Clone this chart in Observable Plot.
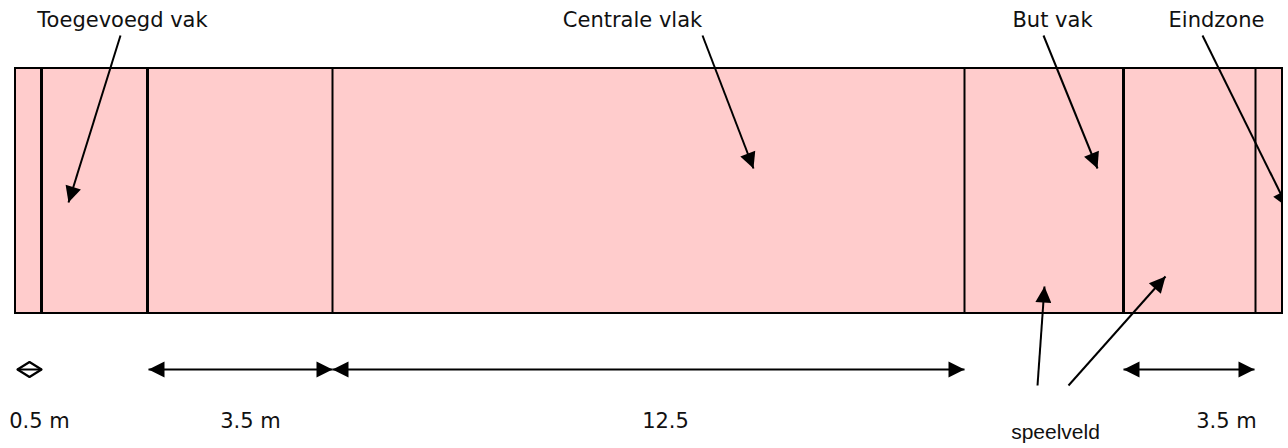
<!DOCTYPE html>
<html>
<head>
<meta charset="utf-8">
<script src="https://cdn.jsdelivr.net/npm/d3@7"></script>
<script src="https://cdn.jsdelivr.net/npm/@observablehq/plot@0.6"></script>
<style>
  html, body { margin: 0; padding: 0; background: #fff; }
  svg { display: block; }
</style>
</head>
<body>
<div id="chart"></div>
<script>
// ---- data (diagram units) ----
const fieldX = [15, 1282];          // left / right edge of the field
const fieldY = [68, 313];           // top / bottom edge of the field
const dividers = [41, 147, 332, 964, 1123, 1255];

const topLabels = ["Toegevoegd vak", "Centrale vlak", "But vak", "Eindzone"];
const topLabelX = [122, 632, 1052, 1216];
const topLabelY = [26, 26, 26, 26];
const topArrowFrom = [[120, 35], [702, 35], [1043, 35], [1202, 35]];
const topArrowTo = [[68, 202], [753, 168], [1097, 168], [1287, 207]];

const dimSpans = [[17, 41], [148, 332], [332, 964], [1123, 1254]];
const dimY = 369;
const dimLabels = ["0.5 m", "3.5 m", "12.5", "3.5 m"];
const dimLabelX = [39, 250, 665, 1226];
const dimLabelY = [427, 427, 427, 427];

const noteLabel = ["speelveld"];
const noteLabelX = [1055];
const noteLabelY = [438];
const noteArrowFrom = [[1037, 385], [1068, 385]];
const noteArrowTo = [[1044, 286], [1165, 276]];

// ---- helpers ----
function head(id, from, tip, len, half) {
  const dx = tip[0] - from[0], dy = tip[1] - from[1];
  const n = Math.hypot(dx, dy), ux = dx / n, uy = dy / n;
  const bx = tip[0] - ux * len, by = tip[1] - uy * len;
  return [
    {id, x: tip[0], y: tip[1]},
    {id, x: bx - uy * half, y: by + ux * half},
    {id, x: bx + uy * half, y: by - ux * half}
  ];
}

const topLines = topArrowFrom.map((f, i) => ({x1: f[0], y1: f[1], x2: topArrowTo[i][0], y2: topArrowTo[i][1]}));
const topHeads = topArrowFrom.flatMap((f, i) => head("t" + i, f, topArrowTo[i], 16, 8));
const noteLines = noteArrowFrom.map((f, i) => ({x1: f[0], y1: f[1], x2: noteArrowTo[i][0], y2: noteArrowTo[i][1]}));
const noteHeads = noteArrowFrom.flatMap((f, i) => head("n" + i, f, noteArrowTo[i], 16, 8));

const dimLines = dimSpans.map(s => ({x1: s[0], x2: s[1], y: dimY}));
const solidDimHeads = [], hollowDimHeads = [];
dimSpans.forEach((s, i) => {
  const small = (s[1] - s[0]) < 30;
  if (small) {
    // heads meet back to back: drawn as one open diamond
    const m = (s[0] + s[1]) / 2;
    hollowDimHeads.push(
      {id: "d" + i, x: s[0], y: dimY},
      {id: "d" + i, x: m, y: dimY - 7.5},
      {id: "d" + i, x: s[1], y: dimY},
      {id: "d" + i, x: m, y: dimY + 7.5}
    );
  } else {
    solidDimHeads.push(...head("dl" + i, [s[1], dimY], [s[0], dimY], 16, 8));
    solidDimHeads.push(...head("dr" + i, [s[0], dimY], [s[1], dimY], 16, 8));
  }
});

const textFont = "DejaVu Sans, Verdana, sans-serif";

const chart = Plot.plot({
  width: 1288,
  height: 448,
  marginTop: 0, marginBottom: 0, marginLeft: 0, marginRight: 6,
  x: {domain: [0, 1282], range: [0, 1282], axis: null},
  y: {domain: [0, 448], range: [0, 448], axis: null},
  style: {background: "white", overflow: "visible"},
  marks: [
    Plot.rect([{x1: fieldX[0], x2: fieldX[1], y1: fieldY[0], y2: fieldY[1]}],
      {x1: "x1", x2: "x2", y1: "y1", y2: "y2", fill: "#FFCCCC", stroke: "black", strokeWidth: 2}),
    Plot.ruleX(dividers, {x: d => d, y1: fieldY[0], y2: fieldY[1], stroke: "black",
      strokeWidth: (d, i) => [3, 3, 2, 2, 3, 2][i]}),
    // top call-out arrows
    Plot.link(topLines, {x1: "x1", y1: "y1", x2: "x2", y2: "y2", stroke: "black", strokeWidth: 2, clip: true}),
    Plot.line(topHeads, {x: "x", y: "y", z: "id", fill: "black", stroke: "none", curve: "linear-closed", clip: true}),
    Plot.text(topLabels, {x: (d, i) => topLabelX[i], y: (d, i) => topLabelY[i], text: d => d,
      fontFamily: textFont, fontSize: 21, fill: "#111", textAnchor: "middle", lineAnchor: "bottom"}),
    // dimension arrows
    Plot.line(hollowDimHeads, {x: "x", y: "y", z: "id", fill: "white", stroke: "black", strokeWidth: 2.2, curve: "linear-closed"}),
    Plot.link(dimLines, {x1: "x1", x2: "x2", y1: "y", y2: "y", stroke: "black", strokeWidth: 2}),
    Plot.line(solidDimHeads, {x: "x", y: "y", z: "id", fill: "black", stroke: "none", curve: "linear-closed"}),
    Plot.text(dimLabels, {x: (d, i) => dimLabelX[i], y: (d, i) => dimLabelY[i], text: d => d,
      fontFamily: textFont, fontSize: 21, fill: "#111", textAnchor: "middle", lineAnchor: "bottom"}),
    // speelveld note
    Plot.link(noteLines, {x1: "x1", y1: "y1", x2: "x2", y2: "y2", stroke: "black", strokeWidth: 2}),
    Plot.line(noteHeads, {x: "x", y: "y", z: "id", fill: "black", stroke: "none", curve: "linear-closed"}),
    Plot.text(noteLabel, {x: (d, i) => noteLabelX[i], y: (d, i) => noteLabelY[i], text: d => d,
      fontFamily: "Liberation Sans, Arial, sans-serif", fontSize: 21, fill: "#111", textAnchor: "middle", lineAnchor: "bottom"})
  ]
});
document.getElementById("chart").appendChild(chart);
</script>
</body>
</html>
